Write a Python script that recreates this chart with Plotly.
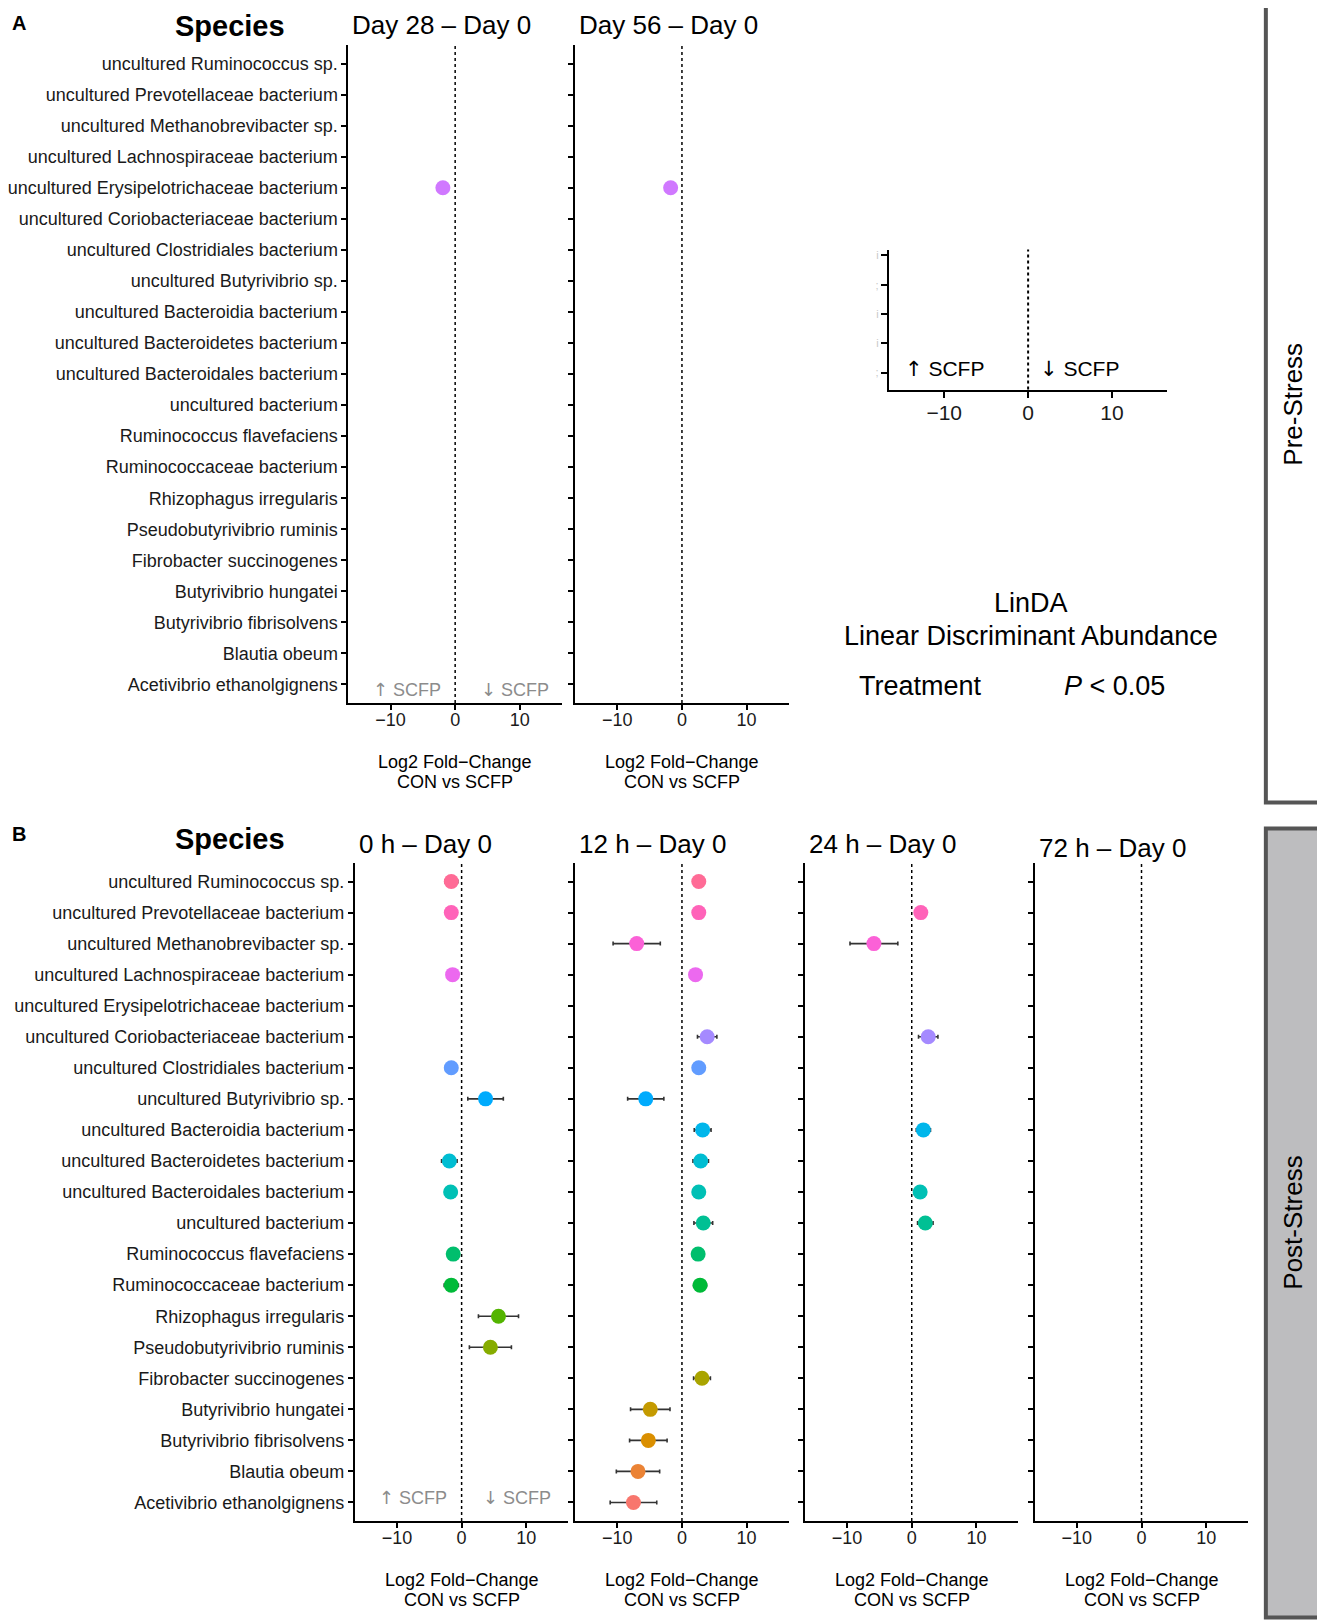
import math
import plotly.graph_objects as go

# ---------------- data ----------------
species = [  # bottom -> top (factor level order)
    "Acetivibrio ethanolgignens", "Blautia obeum", "Butyrivibrio fibrisolvens",
    "Butyrivibrio hungatei", "Fibrobacter succinogenes", "Pseudobutyrivibrio ruminis",
    "Rhizophagus irregularis", "Ruminococcaceae bacterium", "Ruminococcus flavefaciens",
    "uncultured bacterium", "uncultured Bacteroidales bacterium",
    "uncultured Bacteroidetes bacterium", "uncultured Bacteroidia bacterium",
    "uncultured Butyrivibrio sp.", "uncultured Clostridiales bacterium",
    "uncultured Coriobacteriaceae bacterium", "uncultured Erysipelotrichaceae bacterium",
    "uncultured Lachnospiraceae bacterium", "uncultured Methanobrevibacter sp.",
    "uncultured Prevotellaceae bacterium", "uncultured Ruminococcus sp.",
]
N = None
day28_lfc = [N]*16 + [-1.9] + [N]*4
day28_err = [N]*16 + [0.8] + [N]*4
day56_lfc = [N]*16 + [-1.75] + [N]*4
day56_err = [N]*16 + [0.8] + [N]*4

h0_lfc = [N, N, N, N, N, 4.45, 5.7, -1.6, -1.3, N, -1.7, -1.9, N, 3.7, -1.6, N, N, -1.4, N, -1.6, -1.6]
h0_err = [N, N, N, N, N, 3.25, 3.1, 1.1, 0.8, N, 0.9, 1.2, N, 2.75, 0.9, N, N, 0.6, N, 0.8, 1.0]

h12_lfc = [-7.5, -6.8, -5.2, -4.9, 3.1, N, N, 2.8, 2.5, 3.3, 2.6, 2.9, 3.2, -5.6, 2.6, 3.9, N, 2.1, -7.0, 2.6, 2.6]
h12_err = [3.6, 3.35, 2.9, 3.05, 1.3, N, N, 1.0, 0.7, 1.45, 0.8, 1.2, 1.3, 2.8, 0.9, 1.5, N, 0.6, 3.65, 0.8, 0.9]

h24_lfc = [N]*9 + [2.1, 1.3, N, 1.8, N, N, 2.55, N, N, -5.85, 1.4, N]
h24_err = [N]*9 + [1.2, 0.9, N, 1.1, N, N, 1.5, N, N, 3.7, 0.8, N]

h72_lfc = [N]*21
h72_err = [N]*21

x_ticks = [-10, 0, 10]
x_range = [-16.5, 16.5]

pre_titles = ["Day 28 \u2013 Day 0", "Day 56 \u2013 Day 0"]
post_titles = ["0 h \u2013 Day 0", "12 h \u2013 Day 0", "24 h \u2013 Day 0", "72 h \u2013 Day 0"]


# ---------------- colours (ggplot2 default hue palette) ----------------
def hcl_hex(h, c=100.0, l=65.0):
    Xn, Yn, Zn = 95.047, 100.0, 108.883
    Y = Yn * ((l + 16) / 116) ** 3
    u = c * math.cos(math.radians(h))
    v = c * math.sin(math.radians(h))
    t = Xn + 15 * Yn + 3 * Zn
    un, vn = 4 * Xn / t, 9 * Yn / t
    up = u / (13 * l) + un
    vp = v / (13 * l) + vn
    X = 9.0 * Y * up / (4 * vp)
    Z = -X / 3 - 5 * Y + 3 * Y / vp
    X, Y, Z = X / 100, Y / 100, Z / 100
    r = 3.240479 * X - 1.537150 * Y - 0.498535 * Z
    g = -0.969256 * X + 1.875992 * Y + 0.041556 * Z
    b = 0.055648 * X - 0.204043 * Y + 1.057311 * Z

    def gam(x):
        x = 12.92 * x if x <= 0.0031308 else 1.055 * x ** (1 / 2.4) - 0.055
        return int(round(min(max(x, 0), 1) * 255))
    return "#%02X%02X%02X" % (gam(r), gam(g), gam(b))


n = len(species)
colors = [hcl_hex(15 + i * 360.0 / n) for i in range(n)]

W, H = 1325, 1622
FONT = "Liberation Sans, Arial, Helvetica, sans-serif"
OX, OY = -9.5, -7.5  # global pixel offset


def fx(p):
    return (p + OX) / W


def fy(p):
    return 1 - (p + OY) / H


def arrow(ch):
    return '<span style="font-family:DejaVu Sans">%s</span>' % ch


fig = go.Figure()

# panel geometry in pixels: (x0, x1, y0, y1)
A_Y = (44.4, 702.6)
B_Y = (862.4, 1520.6)
panels = [
    (day28_lfc, day28_err, (344.75, 559.25), A_Y, True, pre_titles[0]),
    (day56_lfc, day56_err, (572.75, 787.25), A_Y, False, pre_titles[1]),
    (h0_lfc, h0_err, (351.25, 565.75), B_Y, True, post_titles[0]),
    (h12_lfc, h12_err, (572.75, 787.25), B_Y, False, post_titles[1]),
    (h24_lfc, h24_err, (803.75, 1018.25), B_Y, False, post_titles[2]),
    (h72_lfc, h72_err, (1034.75, 1249.25), B_Y, False, post_titles[3]),
]

annotations = []
shapes = []
layout_axes = {}

for k, (vals, errs, (x0, x1), (y0, y1), show_lab, title) in enumerate(panels, start=1):
    xa = "x" if k == 1 else "x%d" % k
    ya = "y" if k == 1 else "y%d" % k
    idx = [i for i, v in enumerate(vals) if v is not None]
    fig.add_trace(go.Scatter(
        x=[vals[i] for i in idx],
        y=[i for i in idx],
        mode="markers",
        marker=dict(size=15, color=[colors[i] for i in idx], line=dict(width=0)),
        error_x=dict(type="data", array=[errs[i] for i in idx], color="#333333",
                     thickness=1.6, width=2),
        xaxis=xa, yaxis=ya, showlegend=False, hoverinfo="x+y",
    ))
    xkey = "xaxis" if k == 1 else "xaxis%d" % k
    ykey = "yaxis" if k == 1 else "yaxis%d" % k
    layout_axes[xkey] = dict(
        domain=[fx(x0), fx(x1)], range=x_range, anchor=ya,
        tickmode="array", tickvals=x_ticks, ticks="outside", ticklen=5, tickwidth=1.5,
        tickcolor="black", showline=True, linecolor="black", linewidth=2,
        showgrid=False, zeroline=False, ticklabelstandoff=-6,
        tickfont=dict(family=FONT, size=18, color="#1a1a1a"),
    )
    layout_axes[ykey] = dict(
        domain=[fy(y1), fy(y0)], range=[-0.6, n - 0.4], anchor=xa,
        tickmode="array", tickvals=list(range(n)),
        ticktext=species if show_lab else [""] * n,
        showticklabels=show_lab,
        ticks="outside", ticklen=5, tickwidth=1.5, tickcolor="black",
        showline=True, linecolor="black", linewidth=2,
        showgrid=False, zeroline=False,
        tickfont=dict(family=FONT, size=18, color="#1a1a1a"),
    )
    shapes.append(dict(type="line", xref=xa, yref="%s domain" % ya, x0=0, x1=0, y0=0, y1=1,
                       line=dict(color="black", width=1.5, dash="dot")))
    # panel title (left aligned)
    if y0 < 400:
        annotations.append(dict(text=title, x=fx(x0 + 2), y=1, xref="paper", yref="paper",
                                xanchor="left", yanchor="top", showarrow=False,
                                font=dict(family=FONT, size=26, color="black")))
    else:
        ty = 847.5 if k == 6 else 843.5
        annotations.append(dict(text=title, x=fx(x0 + 2), y=fy(ty), xref="paper",
                                yref="paper", xanchor="left", yanchor="middle",
                                showarrow=False, font=dict(family=FONT, size=26, color="black")))
    # x-axis title (two lines)
    xc = (x0 + x1) / 2
    base = 761 if y0 < 400 else 1579
    for j, line in enumerate(["Log2 Fold\u2212Change", "CON vs SCFP"]):
        annotations.append(dict(text=line, x=fx(xc), y=fy(base + 20.5 * j), xref="paper",
                                yref="paper", xanchor="center", yanchor="middle",
                                showarrow=False, font=dict(family=FONT, size=18, color="black")))

# inset "legend" axis
fig.add_trace(go.Scatter(x=[], y=[], mode="markers", xaxis="x7", yaxis="y7",
                         showlegend=False))
layout_axes["xaxis7"] = dict(
    domain=[fx(888), fx(1168)], range=[-16.6, 16.6], anchor="y7",
    tickmode="array", tickvals=x_ticks, ticks="outside", ticklen=6, tickwidth=1.5,
    tickcolor="black", showline=True, linecolor="black", linewidth=2,
    showgrid=False, zeroline=False, ticklabelstandoff=-3,
    tickfont=dict(family=FONT, size=21, color="#1a1a1a"),
)
layout_axes["yaxis7"] = dict(
    domain=[fy(389), fy(249)], range=[0.42, 5.2], anchor="x7",
    tickmode="array", tickvals=[1, 2, 3, 4, 5], ticktext=[";", "i", "i", ";", "i"],
    ticks="outside", ticklen=6, tickwidth=1.5, tickcolor="black",
    showline=True, linecolor="black", linewidth=2, showgrid=False, zeroline=False,
    tickfont=dict(family=FONT, size=11, color="#c8c8c8"),
)
shapes.append(dict(type="line", xref="x7", yref="y7 domain", x0=0, x1=0, y0=0, y1=1,
                   line=dict(color="black", width=2, dash="dot")))

# SCFP direction labels
for (xc, yc, txt, col, sz) in [
    (404, 689, arrow("\u2191") + " SCFP", "#8c8c8c", 18),
    (512, 689, arrow("\u2193") + " SCFP", "#8c8c8c", 18),
    (410, 1497, arrow("\u2191") + " SCFP", "#8c8c8c", 18),
    (514, 1497, arrow("\u2193") + " SCFP", "#8c8c8c", 18),
    (944, 369, arrow("\u2191") + " SCFP", "black", 21),
    (1080, 369, arrow("\u2193") + " SCFP", "black", 21),
]:
    annotations.append(dict(text=txt, x=fx(xc), y=fy(yc), xref="paper", yref="paper",
                            xanchor="center", yanchor="middle", showarrow=False,
                            font=dict(family=FONT, size=sz, color=col)))

# headings
annotations.append(dict(text="<b>A</b>", x=fx(14), y=1, xref="paper", yref="paper",
                        xanchor="center", yanchor="top", yshift=-2, showarrow=False,
                        font=dict(family=FONT, size=20, color="black")))
annotations.append(dict(text="<b>Species</b>", x=fx(226), y=1, xref="paper", yref="paper",
                        xanchor="center", yanchor="top", showarrow=False,
                        font=dict(family=FONT, size=29, color="black")))
for (x, y, txt, sz) in [
    (14, 834, "<b>B</b>", 20),
    (226, 838, "<b>Species</b>", 29),
    (1031, 602, "LinDA", 27),
    (1031, 635, "Linear Discriminant Abundance", 27),
    (920, 685, "Treatment", 27),
    (1115, 685, "<i>P</i> &lt; 0.05", 27),
]:
    annotations.append(dict(text=txt, x=fx(x), y=fy(y), xref="paper", yref="paper",
                            xanchor="center", yanchor="middle", showarrow=False,
                            font=dict(family=FONT, size=sz, color="black")))

# stage strips
for (y0, y1, fill, txt) in [(5, 802, "white", "Pre-Stress"), (828, 1617, "#bdbdbf", "Post-Stress")]:
    shapes.append(dict(type="rect", xref="paper", yref="paper", x0=fx(1267), x1=fx(1322),
                       y0=fy(y1), y1=fy(y0), fillcolor=fill,
                       line=dict(color="#555555", width=4), layer="below"))
    annotations.append(dict(text=txt, x=fx(1294), y=fy((y0 + y1) / 2), xref="paper",
                            yref="paper", xanchor="center", yanchor="middle", showarrow=False,
                            textangle=-90, font=dict(family=FONT, size=26, color="black")))

fig.update_layout(
    width=W, height=H, margin=dict(l=0, r=0, t=0, b=0),
    paper_bgcolor="white", plot_bgcolor="white",
    annotations=annotations, shapes=shapes, showlegend=False,
    **layout_axes,
)

fig.write_html("out.html")
